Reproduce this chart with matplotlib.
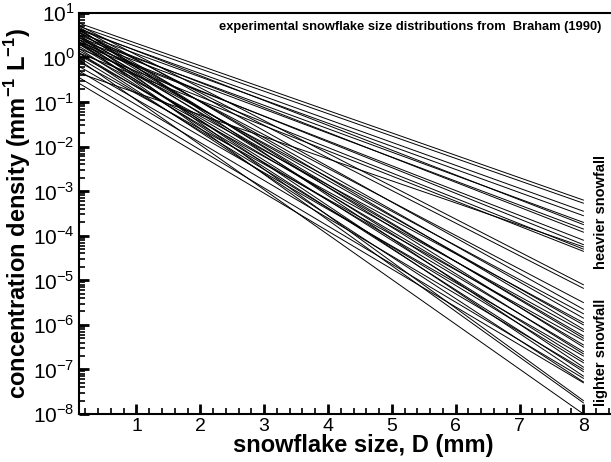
import numpy as np
import matplotlib
matplotlib.use('Agg')
import matplotlib.pyplot as plt
from matplotlib.ticker import LogLocator, MultipleLocator, NullFormatter, FixedLocator

plt.rcParams['font.family'] = ['Liberation Sans', 'DejaVu Sans']
plt.rcParams['mathtext.fontset'] = 'custom'
plt.rcParams['mathtext.rm'] = 'Liberation Sans'
plt.rcParams['mathtext.bf'] = 'Liberation Sans:bold'

# each line is a straight exponential: log10 of concentration at D = 0.1 mm and D = 8 mm
d_start = 0.1
d_end = 8.0

# heavier snowfall (flatter slopes)
heavy_log_start = [0.77, 0.70, 0.62, 0.55, 0.45, 0.65, 0.40, 0.50, 0.30, 0.35, 0.20, 0.10, -0.35]
heavy_log_end = [-3.20, -3.27, -3.45, -3.55, -3.70, -3.75, -3.85, -3.92, -4.10, -4.20, -4.30, -4.35, -4.25]

# lighter snowfall (steeper slopes)
light_log_start = [0.72, 0.60, 0.45, 0.68, 0.30, 0.55, 0.15, 0.40, 0.62, 0.05, 0.35, 0.50,
                   -0.10, 0.25, 0.58, 0.10, 0.45, -0.20, 0.30, 0.00, 0.65, -0.30, 0.20, 0.40,
                   -0.45, 0.10, -0.58, 0.50, 0.35, -0.05]
light_log_end = [-5.10, -5.18, -5.50, -5.65, -5.75, -5.85, -5.95, -6.00, -6.10, -6.15, -6.25, -6.30,
                 -6.35, -6.45, -6.50, -6.60, -6.65, -6.70, -6.80, -6.85, -6.95, -7.00, -7.05, -7.15,
                 -7.20, -7.28, -7.30, -7.70, -7.75, -8.00]

x_ticks = [1, 2, 3, 4, 5, 6, 7, 8]
y_exponents = list(range(-8, 2))

fig = plt.figure(figsize=(6.11, 4.62), dpi=100)
ax = fig.add_axes([0.1293, 0.104, 0.93, 0.868])

for s, e in zip(heavy_log_start + light_log_start, heavy_log_end + light_log_end):
    ax.plot([d_start, d_end], [10 ** s, 10 ** e], color='black', lw=0.7)

ax.set_yscale('log')
ax.set_xlim(0.1, 9.0)
ax.set_ylim(1e-8, 1e1)

ax.xaxis.set_major_locator(FixedLocator(x_ticks))
ax.set_xticklabels([str(t) for t in x_ticks])
ax.xaxis.set_minor_locator(MultipleLocator(0.2))
ax.yaxis.set_minor_locator(LogLocator(base=10, subs=np.arange(2, 10), numticks=20))
ax.yaxis.set_minor_formatter(NullFormatter())
ax.set_yticks([10.0 ** k for k in y_exponents])
ax.set_yticklabels(['10$^{%d}$' % k for k in y_exponents])

ax.tick_params(which='both', direction='in', top=False, right=False, width=1.2)
ax.tick_params(axis='x', labelsize=14, pad=3)
ax.tick_params(axis='y', labelsize=15, pad=3)
ax.tick_params(which='major', length=7, width=2)
ax.tick_params(which='minor', length=4)
for sp in ax.spines.values():
    sp.set_linewidth(1.5)

ax.set_xlabel('snowflake size, D (mm)', fontsize=17, fontweight='bold', labelpad=-1)
ax.set_ylabel('concentration density (mm$^{\\mathbf{-1}}$ L$^{\\mathbf{-1}}$)',
              fontsize=17, fontweight='bold', labelpad=0)

fig.text(601 / 611, 1 - 27 / 462, 'experimental snowflake size distributions from  Braham (1990)',
         ha='right', va='center', fontsize=9.3, fontweight='bold')
fig.text(601 / 611, 1 - 212 / 462, 'heavier snowfall', rotation=90, ha='center', va='center',
         fontsize=10.5, fontweight='bold')
fig.text(601 / 611, 1 - 352 / 462, 'lighter snowfall', rotation=90, ha='center', va='center',
         fontsize=10.5, fontweight='bold')

fig.savefig('out.png', dpi=100)
